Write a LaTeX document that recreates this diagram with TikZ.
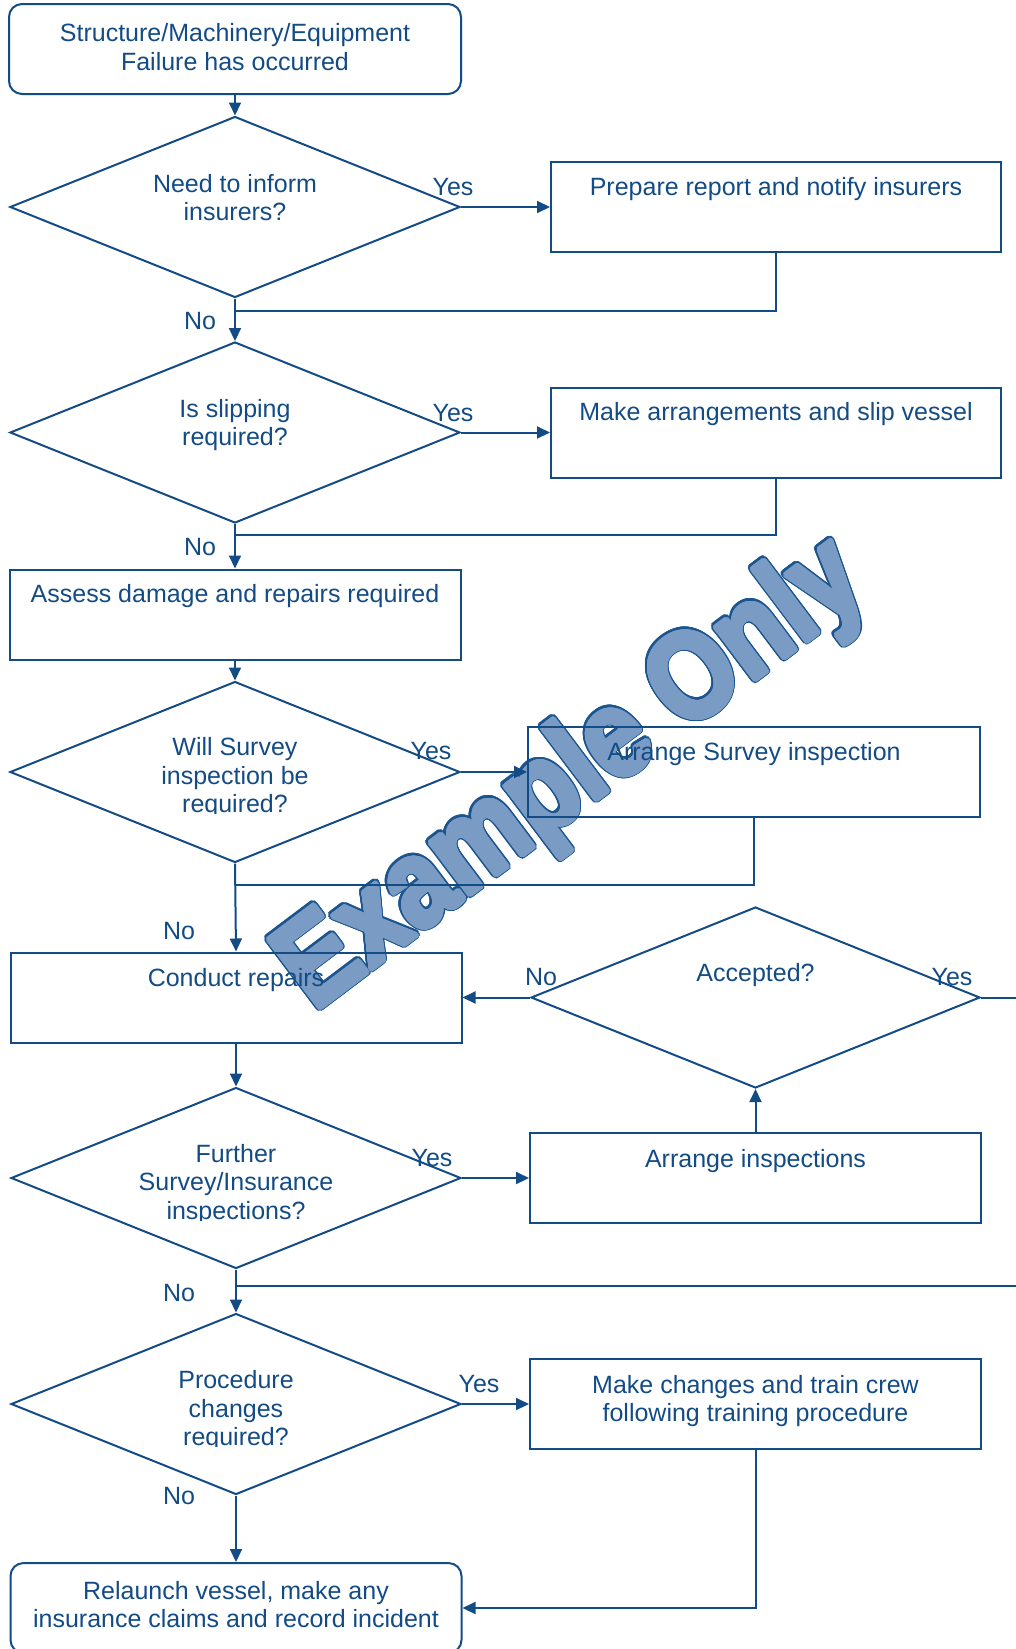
\documentclass[tikz,border=0pt]{standalone}
\usepackage{fontspec}
\setmainfont{Liberation Sans}
\usepackage{contour}
\usetikzlibrary{shapes.geometric,arrows.meta}
\definecolor{ink}{HTML}{134B85}
\definecolor{wmfill}{HTML}{7A9BC4}
\definecolor{wmline}{HTML}{1B5590}

\begin{document}
\begin{tikzpicture}[x=1pt,y=-1pt,
  every node/.style={font=\fontsize{25}{28.5}\selectfont, text=ink},
  txt/.style={align=center, inner sep=0pt},
  lbl/.style={inner sep=0pt},
  boxnode/.style={draw=ink, line width=2pt, rectangle, inner sep=0pt,
    minimum width=451pt, minimum height=90pt},
  roundbox/.style={boxnode, rounded corners=13pt},
  dia/.style={draw=ink, line width=2pt, diamond, inner sep=0pt,
    minimum width=450pt, minimum height=181pt},
  wire/.style={draw=ink, line width=2pt},
  arr/.style={wire, -{Triangle[length=13pt,width=12pt]}},
  wmark/.style={rotate=37, xscale=0.85, inner sep=0pt,
    font=\fontsize{124}{124}\bfseries\selectfont}
]
\useasboundingbox (0,0) rectangle (1016,1649);

% watermark, behind the chart: dark rim first, thickened light body on top
\begin{scope}[shift={(574.5,778)}]
  \node[wmark, text=wmline] (wmrim) at (0,0)
        {\contourlength{4.5pt}\contour[32]{wmline}{Example Only}};
  \node[wmark, text=wmfill] (wm) at (0,0)
        {\contourlength{2.6pt}\contour[32]{wmfill}{Example Only}};
\end{scope}

% ---- nodes ----
\node[roundbox, minimum width=452pt] (start) at (235,49) {};
\node[txt] (startt) at (235,47) {Structure/Machinery/Equipment\\Failure has occurred};

\node[dia] (d1) at (235,207) {};
\node[txt] (d1t) at (235,197.5) {Need to inform\\insurers?};
\node[boxnode, minimum width=450pt] (prep) at (776,207) {};
\node[txt] (prept) at (776,189) {Prepare report and notify insurers};

\node[dia] (d2) at (235,432.5) {};
\node[txt] (d2t) at (235,425) {Is slipping\\required?};
\node[boxnode, minimum width=450pt] (slip) at (776,432.5) {};
\node[txt] (slipt) at (776,414) {Make arrangements and slip vessel};

\node[boxnode] (assess) at (235,614.5) {};
\node[txt] (assesst) at (235,596) {Assess damage and repairs required};

\node[dia] (d3) at (235,772) {};
\begin{scope}
  \clip (0,690) rectangle (470,813.5);
  \node[txt] (d3t) at (235,778) {Will Survey\\inspection be\\required?};
\end{scope}
\node[boxnode, minimum width=452pt] (survey) at (754,772) {};
\node[txt] (surveyt) at (754,754) {Arrange Survey inspection};

\node[boxnode] (conduct) at (236,997.5) {};
\node[txt] (conductt) at (236,980) {Conduct repairs};

\node[dia, minimum width=449pt] (acc) at (755.5,997.5) {};
\node[txt] (acct) at (755.5,975) {Accepted?};

\node[dia] (d5) at (236,1178) {};
\begin{scope}
  \clip (0,1100) rectangle (470,1220);
  \node[txt] (d5t) at (236,1184.5) {Further\\Survey/Insurance\\inspections?};
\end{scope}
\node[boxnode] (arrinsp) at (755.5,1178) {};
\node[txt] (arrinspt) at (755.5,1161) {Arrange inspections};

\node[dia] (d6) at (236,1404) {};
\begin{scope}
  \clip (0,1320) rectangle (470,1446.5);
  \node[txt] (d6t) at (236,1411) {Procedure\\changes\\required?};
\end{scope}
\node[boxnode] (change) at (755.5,1404) {};
\node[txt] (changet) at (755.5,1401) {Make changes and train crew\\following training procedure};

\node[roundbox] (relaunch) at (236,1608) {};
\node[txt] (relauncht) at (236,1604.5) {Relaunch vessel, make any\\insurance claims and record incident};

% ---- junctions and free ends ----
\coordinate (j1) at (235,311);
\coordinate (j2) at (235,535);
\coordinate (j3) at (235,885);
\coordinate (j5) at (236,1286);
\coordinate (out5) at (1016,1286);
\coordinate (outA) at (1016,997.5);

% ---- connectors ----
\draw[arr] (start.south) -- (d1.north);
\draw[arr] (d1.east) -- (prep.west);
\draw[wire] (prep.south) |- (j1);
\draw[arr] (d1.south) -- (d2.north);

\draw[arr] (d2.east) -- (slip.west);
\draw[wire] (slip.south) |- (j2);
\draw[arr] (d2.south) -- (assess.north);

\draw[arr] (assess.south) -- (d3.north);
\draw[arr] (d3.east) -- (survey.west);
\draw[wire] (survey.south) |- (j3);
\draw[arr] (d3.south) -- (conduct.north);

\draw[arr] (acc.west) -- (conduct.east);
\draw[wire] (acc.east) -- (outA);

\draw[arr] (conduct.south) -- (d5.north);
\draw[arr] (d5.east) -- (arrinsp.west);
\draw[arr] (arrinsp.north) -- (acc.south);
\draw[arr] (d5.south) -- (d6.north);
\draw[wire] (j5) -- (out5);

\draw[arr] (d6.east) -- (change.west);
\draw[arr] (d6.south) -- (relaunch.north);
\draw[arr] (change.south) |- (relaunch.east);

% ---- branch labels ----
\node[lbl] (yes1) at (453,187) {Yes};
\node[lbl] (no1) at (200,321.5) {No};
\node[lbl] (yes2) at (453,413) {Yes};
\node[lbl] (no2) at (200,547.5) {No};
\node[lbl] (yes3) at (431,751) {Yes};
\node[lbl] (no3) at (179,931.5) {No};
\node[lbl] (noA) at (541,977.5) {No};
\node[lbl] (yesA) at (952,977.5) {Yes};
\node[lbl] (yes5) at (432,1158) {Yes};
\node[lbl] (no5) at (179,1293.5) {No};
\node[lbl] (yes6) at (479,1384) {Yes};
\node[lbl] (no6) at (179,1496.5) {No};
\end{tikzpicture}
\end{document}
